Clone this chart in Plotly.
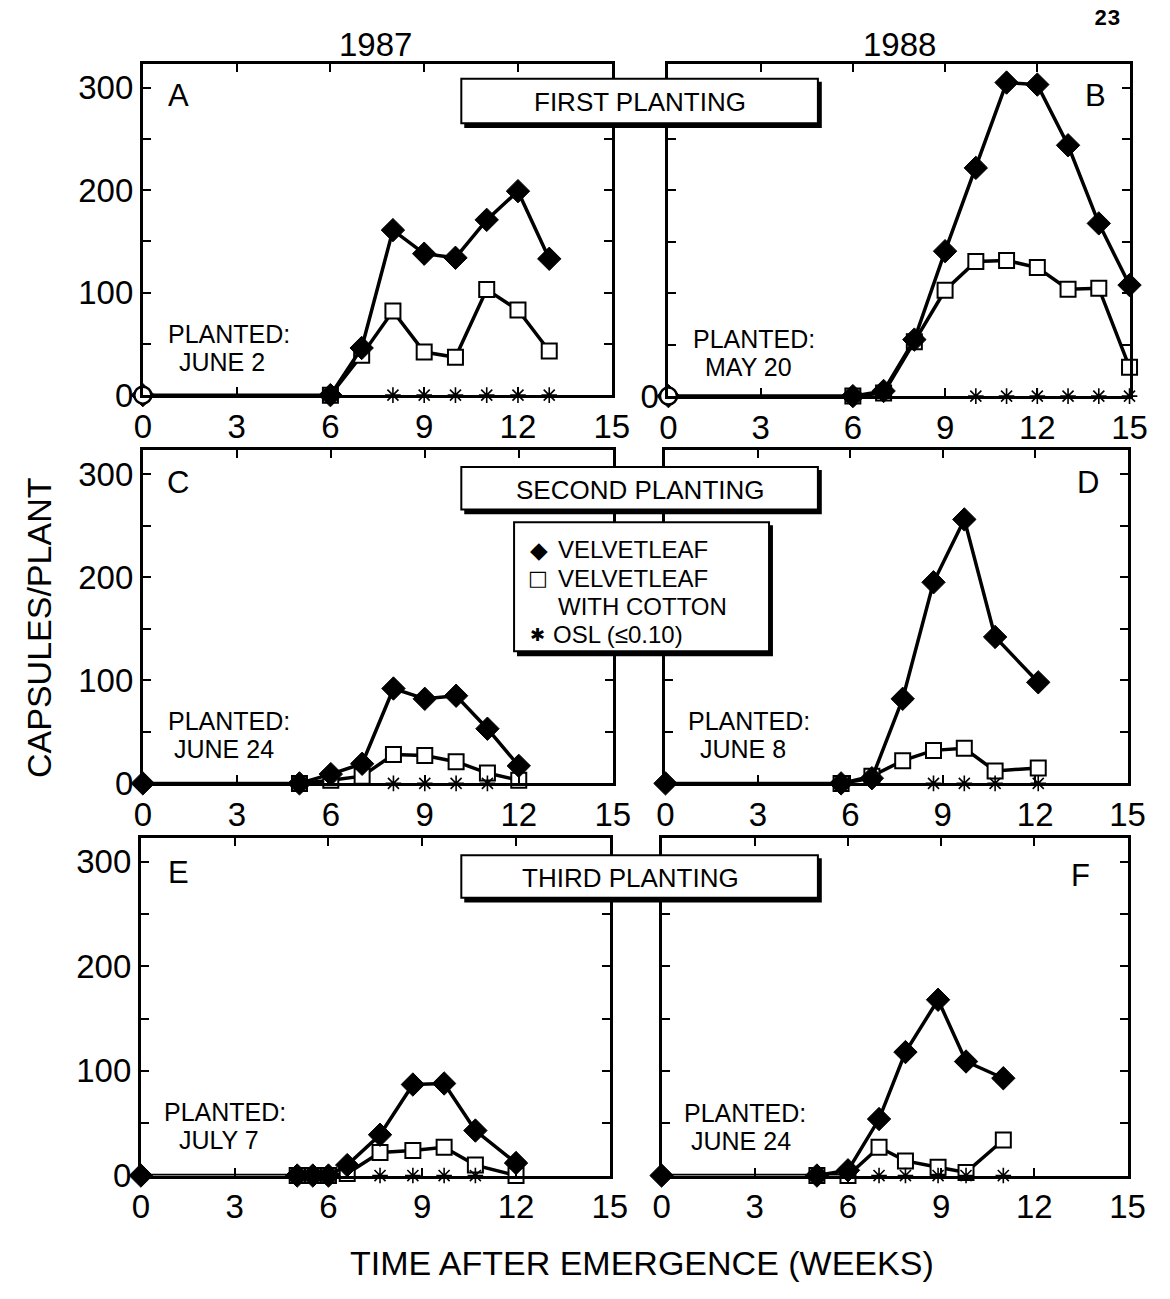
import plotly.graph_objects as go

W, H = 1170, 1299
FONT = "Liberation Sans"

# ---------------- data (weeks after emergence, capsules/plant) ----------------
# Panel A: 1987, first planting
A_vel_x = [0, 6, 7, 8, 9, 10, 11, 12, 13]
A_vel_y = [0, 0, 46, 161, 138, 134, 171, 199, 133]
A_cot_x = [6, 7, 8, 9, 10, 11, 12, 13]
A_cot_y = [0, 39, 82, 42, 37, 103, 83, 43]
A_osl_x = [8, 9, 10, 11, 12, 13]

# Panel B: 1988, first planting
B_vel_x = [0, 6, 7, 8, 9, 10, 11, 12, 13, 14, 15]
B_vel_y = [0, 0, 5, 55, 141, 222, 305, 303, 244, 168, 108]
B_cot_x = [6, 7, 8, 9, 10, 11, 12, 13, 14, 15]
B_cot_y = [0, 3, 53, 103, 131, 132, 125, 104, 105, 28]
B_osl_x = [10, 11, 12, 13, 14, 15]

# Panel C: 1987, second planting
C_vel_x = [0, 5, 6, 7, 8, 9, 10, 11, 12]
C_vel_y = [0, 0, 9, 19, 92, 82, 85, 53, 17]
C_cot_x = [5, 6, 7, 8, 9, 10, 11, 12]
C_cot_y = [0, 3, 7, 28, 27, 21, 10, 3]
C_osl_x = [8, 9, 10, 11]

# Panel D: 1988, second planting
D_vel_x = [0, 5.7, 6.7, 7.7, 8.7, 9.7, 10.7, 12.1]
D_vel_y = [0, 0, 5, 82, 195, 256, 142, 98]
D_cot_x = [5.7, 6.7, 7.7, 8.7, 9.7, 10.7, 12.1]
D_cot_y = [0, 7, 22, 32, 34, 12, 15]
D_osl_x = [8.7, 9.7, 10.7, 12.1]

# Panel E: 1987, third planting
E_vel_x = [0, 5, 5.5, 6, 6.6, 7.65, 8.7, 9.7, 10.7, 12]
E_vel_y = [0, 0, 0, 0, 10, 39, 87, 88, 43, 12]
E_cot_x = [5, 5.5, 6, 6.6, 7.65, 8.7, 9.7, 10.7, 12]
E_cot_y = [0, 0, 0, 2, 22, 24, 27, 10, 0]
E_osl_x = [7.65, 8.7, 9.7, 10.7]

# Panel F: 1988, third planting
F_vel_x = [0, 5, 6, 7, 7.85, 8.9, 9.8, 11]
F_vel_y = [0, 0, 5, 54, 118, 168, 109, 93]
F_cot_x = [5, 6, 7, 7.85, 8.9, 9.8, 11]
F_cot_y = [0, 0, 27, 14, 8, 3, 34]
F_osl_x = [7, 7.85, 8.9, 9.8, 11]

x_ticks = [0, 3, 6, 9, 12, 15]
y_ticks = [0, 50, 100, 150, 200, 250, 300]
y_ticktext = ["0", "", "100", "", "200", "", "300"]

panels = [
    ("A", A_vel_x, A_vel_y, A_cot_x, A_cot_y, A_osl_x, True, ("PLANTED:", "JUNE 2"), (137, 617, 65, 401), "full"),
    ("B", B_vel_x, B_vel_y, B_cot_x, B_cot_y, B_osl_x, True, ("PLANTED:", "MAY 20"), (675, 1147, 65, 402), "zero"),
    ("C", C_vel_x, C_vel_y, C_cot_x, C_cot_y, C_osl_x, False, ("PLANTED:", "JUNE 24"), (137, 618, 457, 795), "full"),
    ("D", D_vel_x, D_vel_y, D_cot_x, D_cot_y, D_osl_x, False, ("PLANTED:", "JUNE 8"), (672, 1145, 457, 795), "none"),
    ("E", E_vel_x, E_vel_y, E_cot_x, E_cot_y, E_osl_x, False, ("PLANTED:", "JULY 7"), (135, 615, 850, 1193), "full"),
    ("F", F_vel_x, F_vel_y, F_cot_x, F_cot_y, F_osl_x, False, ("PLANTED:", "JUNE 24"), (668, 1145, 850, 1193), "none"),
]

letter_pos = {"A": (173, 97), "B": (1112, 97), "C": (173, 490), "D": (1104, 490), "E": (173, 885), "F": (1097, 888)}
planted_pos = {
    "A": ((225, 339), (218, 367)),
    "B": ((763, 344), (757, 372)),
    "C": ((225, 732), (220, 760)),
    "D": ((757, 732), (751, 760)),
    "E": ((221, 1129), (215, 1157)),
    "F": ((753, 1130), (749, 1158)),
}


def px(x):
    return x / W


def py(y):
    return 1 - y / H


fig = go.Figure()
annotations = []
shapes = []

for i, (letter, vx, vy, cx, cy, ox, open_start, planted, box, ylab) in enumerate(panels, start=1):
    xa = "x" if i == 1 else f"x{i}"
    ya = "y" if i == 1 else f"y{i}"
    x0, x1, yt, yb = box
    # velvetleaf with cotton (drawn first)
    fig.add_trace(go.Scatter(
        x=cx, y=cy, xaxis=xa, yaxis=ya, mode="lines+markers", cliponaxis=False,
        line=dict(color="black", width=3.5),
        marker=dict(symbol="square", size=15, color="white", line=dict(color="black", width=2)),
        showlegend=False))
    # velvetleaf alone
    fig.add_trace(go.Scatter(
        x=vx, y=vy, xaxis=xa, yaxis=ya, mode="lines+markers", cliponaxis=False,
        line=dict(color="black", width=3.5),
        marker=dict(symbol="diamond", size=18, color="black", line=dict(color="black", width=1)),
        showlegend=False))
    # OSL significance stars
    fig.add_trace(go.Scatter(
        x=ox, y=[0] * len(ox), xaxis=xa, yaxis=ya, mode="markers", cliponaxis=False,
        marker=dict(symbol="asterisk-open", size=13, color="black", line=dict(color="black", width=1.6)),
        showlegend=False))
    if open_start:
        fig.add_trace(go.Scatter(
            x=vx[:1], y=vy[:1], xaxis=xa, yaxis=ya, mode="markers", cliponaxis=False,
            marker=dict(symbol="circle", size=17, color="white", line=dict(color="black", width=2.5)),
            showlegend=False))

    xkey = "xaxis" if i == 1 else f"xaxis{i}"
    ykey = "yaxis" if i == 1 else f"yaxis{i}"
    if ylab == "full":
        ytt = y_ticktext
    elif ylab == "zero":
        ytt = ["0", "", "", "", "", "", ""]
    else:
        ytt = [""] * 7
    fig.update_layout(**{
        xkey: dict(domain=[px(x0), px(x1)], anchor=ya, range=[0, 15],
                   tickvals=x_ticks, ticktext=[str(t) for t in x_ticks],
                   ticks="inside", ticklen=8, tickwidth=2, tickcolor="black",
                   showline=True, linewidth=3, linecolor="black", mirror="ticks",
                   showgrid=False, zeroline=False,
                   tickfont=dict(family=FONT, size=33, color="black")),
        ykey: dict(domain=[py(yb), py(yt)], anchor=xa, range=[0, 323],
                   tickvals=y_ticks, ticktext=ytt,
                   ticks="inside", ticklen=8, tickwidth=2, tickcolor="black",
                   showline=True, linewidth=3, linecolor="black", mirror="ticks",
                   showgrid=False, zeroline=False,
                   tickfont=dict(family=FONT, size=33, color="black")),
    })
    lx, ly = letter_pos[letter]
    annotations.append(dict(text=letter, x=px(lx), y=py(ly), xref="paper", yref="paper",
                            showarrow=False, xanchor="center", yanchor="middle",
                            font=dict(family=FONT, size=31, color="black")))
    for (tx, ty), line in zip(planted_pos[letter], planted):
        annotations.append(dict(text=line, x=px(tx), y=py(ty), xref="paper", yref="paper",
                                showarrow=False, xanchor="center", yanchor="middle",
                                font=dict(family=FONT, size=25, color="black")))


def boxed(x0, y0, x1, y1):
    shapes.append(dict(type="rect", xref="paper", yref="paper", layer="above",
                       x0=px(x0 + 3), x1=px(x1 + 4), y0=py(y1 + 5), y1=py(y0 + 3),
                       fillcolor="black", line=dict(width=0)))
    shapes.append(dict(type="rect", xref="paper", yref="paper", layer="above",
                       x0=px(x0), x1=px(x1), y0=py(y1), y1=py(y0),
                       fillcolor="white", line=dict(color="black", width=2)))


header_titles = ["FIRST PLANTING", "SECOND PLANTING", "THIRD PLANTING"]
header_boxes = [(463, 80, 828, 125), (463, 474, 828, 517), (463, 868, 828, 911)]
header_centers = [(646, 104), (646, 497), (636, 891)]
for t, b, c in zip(header_titles, header_boxes, header_centers):
    boxed(*b)
    annotations.append(dict(text=t, x=px(c[0]), y=py(c[1]), xref="paper", yref="paper",
                            showarrow=False, xanchor="center", yanchor="middle",
                            font=dict(family=FONT, size=26, color="black")))

# legend box
boxed(517, 530, 778, 661)
legend_symbols = ["◆", "□", "✱"]
legend_sym_pos = [(543, 558), (541, 587), (541, 644)]
legend_sym_size = [23, 21, 18]
for s, (sx, sy), ss in zip(legend_symbols, legend_sym_pos, legend_sym_size):
    annotations.append(dict(text=s, x=px(sx), y=py(sy), xref="paper", yref="paper",
                            showarrow=False, xanchor="center", yanchor="middle",
                            font=dict(family="DejaVu Sans", size=ss, color="black")))
legend_lines = ["VELVETLEAF", "VELVETLEAF", "WITH COTTON", "OSL (≤0.10)"]
legend_line_pos = [(560, 558), (560, 587), (560, 615), (555, 644)]
for t, (lx, ly) in zip(legend_lines, legend_line_pos):
    annotations.append(dict(text=t, x=px(lx), y=py(ly), xref="paper", yref="paper",
                            showarrow=False, xanchor="left", yanchor="middle",
                            font=dict(family=FONT, size=24, color="black")))

# years, axis titles, page number
for t, (tx, ty) in zip(["1987", "1988"], [(375, 45), (912, 45)]):
    annotations.append(dict(text=t, x=px(tx), y=py(ty), xref="paper", yref="paper",
                            showarrow=False, xanchor="center", yanchor="middle",
                            font=dict(family=FONT, size=33, color="black")))
annotations.append(dict(text="CAPSULES/PLANT", x=px(30), y=py(637), xref="paper", yref="paper",
                        showarrow=False, xanchor="center", yanchor="middle", textangle=-90,
                        font=dict(family=FONT, size=34, color="black")))
annotations.append(dict(text="TIME AFTER EMERGENCE (WEEKS)", x=px(648), y=py(1282), xref="paper", yref="paper",
                        showarrow=False, xanchor="center", yanchor="middle",
                        font=dict(family=FONT, size=34, color="black")))
annotations.append(dict(text="<b>23</b>", x=px(1124), y=py(20), xref="paper", yref="paper",
                        showarrow=False, xanchor="center", yanchor="middle",
                        font=dict(family="Liberation Mono", size=22, color="black")))

fig.update_layout(width=W, height=H, margin=dict(l=0, r=0, t=0, b=0),
                  paper_bgcolor="white", plot_bgcolor="white",
                  annotations=annotations, shapes=shapes, showlegend=False)

fig.write_html("out.html")
